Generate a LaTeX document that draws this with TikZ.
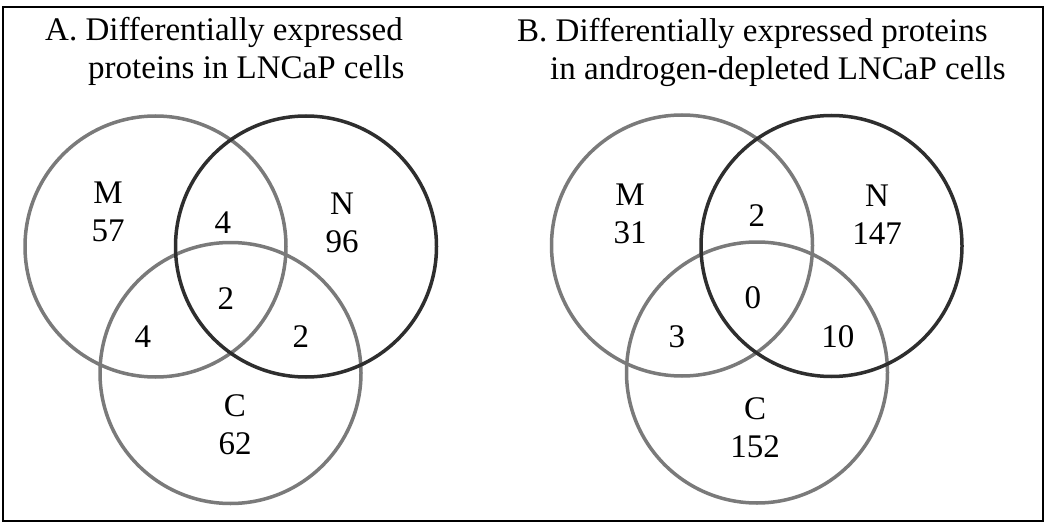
\documentclass[tikz,border=0pt]{standalone}
\usepackage{fontspec}
\setmainfont{Liberation Serif}

\definecolor{ringgray}{HTML}{7A7A7A}
\definecolor{ringdark}{HTML}{2E2E2E}

\begin{document}
\begin{tikzpicture}[x = 1pt, y = -1pt,
    ring/.style = { draw, circle, line width = 3.5pt, minimum size = 261pt, inner sep = 0pt },
    heading/.style = { inner sep = 0pt, anchor = base west, font = \fontsize{33}{38}\selectfont },
    count/.style = { inner sep = 0pt, align = center, font = \fontsize{33}{38}\selectfont }]

  \useasboundingbox (0,0) rectangle (1050,524);
  \draw[line width = 2.5pt] (3,7) rectangle (1043,521);

  % panel A
  \node[heading] (headA1) at (45,41) { A. Differentially expressed };
  \node[heading] (headA2) at (88,79) { proteins in LNCaP cells };

  \node[ring, ringgray] (mA) at (155.5,246.5) {};
  \node[ring, ringgray] (cA) at (230.5,373) {};
  \node[ring, ringdark] (nA) at (306,246.5) {};

  \node[count] (mA-n)  at (108,212) { M \\ 57 };
  \node[count] (mnA-n) at (227,223) { 4 };
  \node[count] (nA-n)  at (342,223) { N \\ 96 };
  \node[count] (mncA-n) at (230,299) { 2 };
  \node[count] (mcA-n) at (147,337) { 4 };
  \node[count] (ncA-n) at (305,337) { 2 };
  \node[count] (cA-n)  at (235,425) { C \\ 62 };

  % panel B
  \node[heading] (headB1) at (517,42) { B. Differentially expressed proteins };
  \node[heading] (headB2) at (550,80) { in androgen-depleted LNCaP cells };

  \node[ring, ringgray] (mB) at (682,245.5) {};
  \node[ring, ringgray] (cB) at (757,372.5) {};
  \node[ring, ringdark] (nB) at (831.5,246) {};

  \node[count] (mB-n)  at (630,214) { M \\ 31 };
  \node[count] (mnB-n) at (761,216) { 2 };
  \node[count] (nB-n)  at (877,215) { N \\ 147 };
  \node[count] (mncB-n) at (757,298) { 0 };
  \node[count] (mcB-n) at (681,337) { 3 };
  \node[count] (ncB-n) at (842,337) { 10 };
  \node[count] (cB-n)  at (755,428) { C \\ 152 };

\end{tikzpicture}
\end{document}
